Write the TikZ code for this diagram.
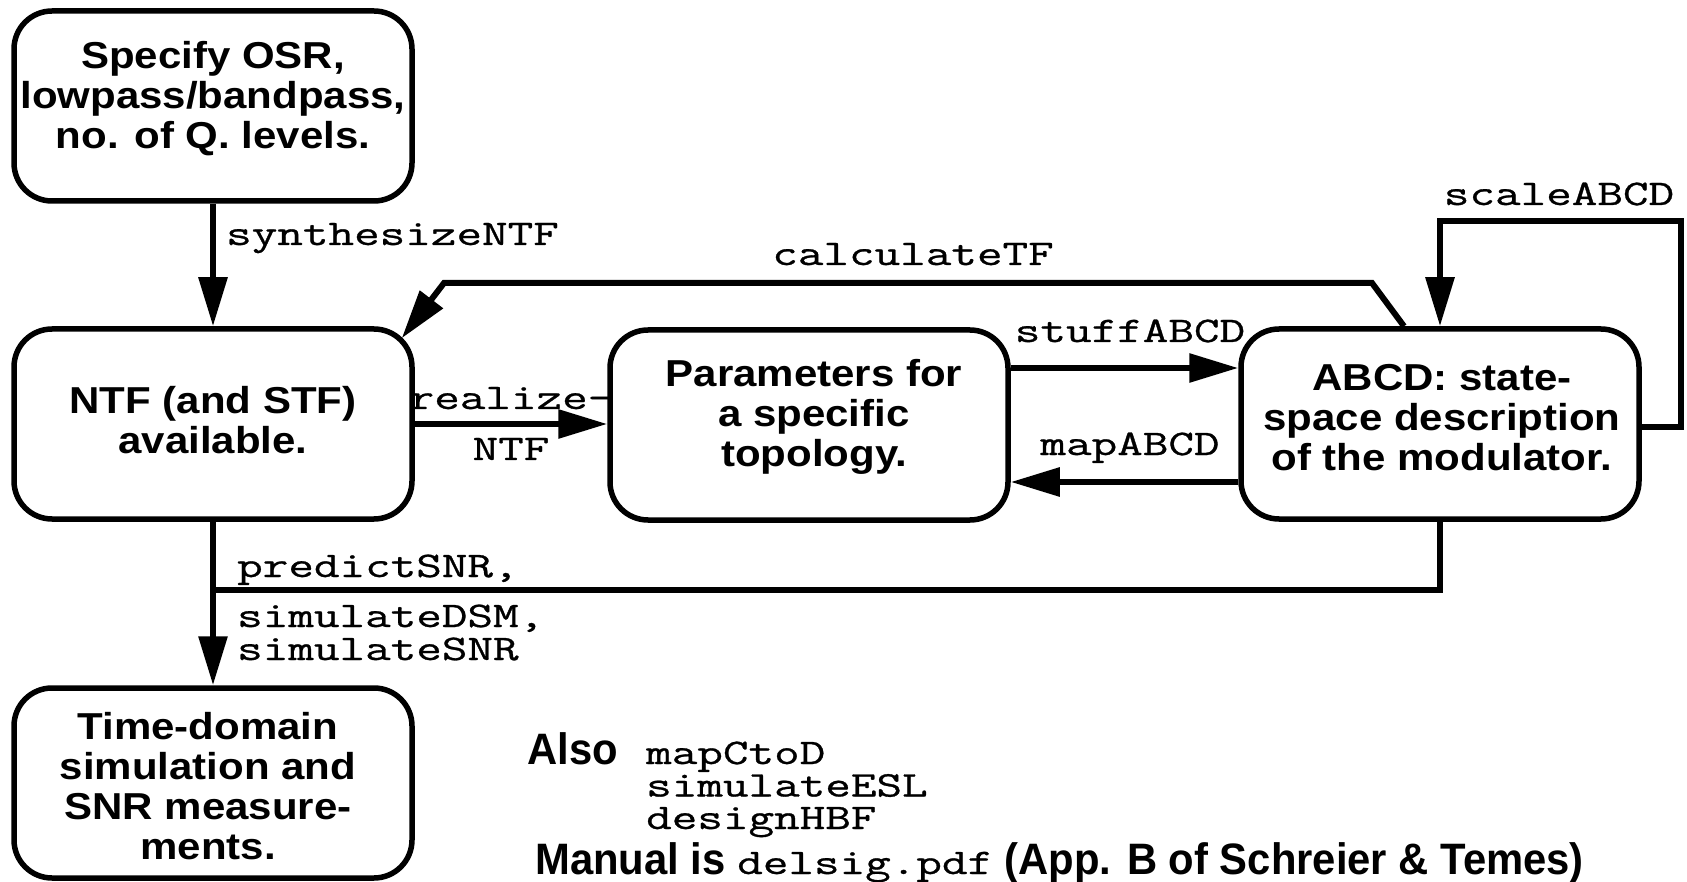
\documentclass[tikz,border=0pt]{standalone}
\usepackage{fontspec}
\setmainfont{Liberation Sans}[FakeStretch=1.12]
\newfontfamily\narrowsans{Liberation Sans}[FakeStretch=0.95]
\newfontfamily\mono{Latin Modern Mono}[FakeStretch=1.38,FakeBold=0.8]
\usetikzlibrary{arrows.meta,calc}
\begin{document}
\begin{tikzpicture}[x=1pt,y=-1pt,
  box/.style={draw, line width=5.5pt, rounded corners=38pt, minimum width=398pt, minimum height=190pt, inner sep=0pt},
  btxt/.style={font=\bfseries\fontsize{37.5}{40}\selectfont, align=center, inner sep=0pt},
  ntxt/.style={font=\narrowsans\bfseries\fontsize{44}{44}\selectfont, inner sep=0pt},
  mtxt/.style={font=\mono\fontsize{36}{33}\selectfont, inner sep=0pt, align=left},
  conn/.style={line width=6pt, line join=miter},
  arr/.style={conn, -{Triangle[length=49pt,width=28pt]}}]
\useasboundingbox[fill=white] (0,0) rectangle (1687,882);
% boxes
\node[box] (spec) at (213,106) {};
\node[box] (ntf) at (213,424) {};
\node[box] (par) at (809,425) {};
\node[box] (abcd) at (1440,424) {};
\node[box] (time) at (213,783) {};
% box texts
\node[btxt] (spect) at (213,99) {Specify OSR,\\lowpass/bandpass,\\no. of Q. levels.};
\node[btxt] (ntft) at (213,420) {NTF (and STF)\\available.};
\node[btxt] (part) at (814,417) {Parameters for\\a specific\\topology.};
\node[btxt] (abcdt) at (1442,418) {ABCD: state-\\space description\\of the modulator.};
\node[btxt] (timet) at (208,786) {Time-domain\\simulation and\\SNR measure-\\ments.};
% helper coordinates
\coordinate (ys) at (0,368);
\coordinate (ym) at (0,482);
\coordinate (yb) at (0,590);
\coordinate (ysc) at (0,221);
\coordinate (yr) at (0,427);
\coordinate (xr) at (1681,0);
\coordinate (cstart) at ($(abcd.north)+(-36,0)$);
\coordinate (cbend) at (1372,283);
\coordinate (cleft) at (444,283);
\coordinate (ctip) at ($(ntf.north east)+(-13,12)$);
% connectors
\draw[arr] (spec.south) -- (ntf.north);
\draw[arr] (ntf.east) -- (ntf.east -| par.west);
\draw[arr] (par.east |- ys) -- (abcd.west |- ys);
\draw[arr] (abcd.west |- ym) -- (par.east |- ym);
\draw[arr] (abcd.east |- yr) -- (xr |- yr) -- (xr |- ysc) -- (abcd.north |- ysc) -- (abcd.north);
\draw[arr] (cstart) -- (cbend) -- (cleft) -- (ctip);
\draw[arr] (ntf.south) -- (time.north);
\draw[conn] (ntf.south |- yb) -- (abcd.south |- yb) -- (abcd.south);
% labels
\node[mtxt, anchor=base west] (l1) at (226,245) {synthesizeNTF};
\node[mtxt, anchor=base] (l2) at (913,265) {calculateTF};
\node[mtxt, anchor=base] (l3) at (1559,205) {scaleABCD};
\node[mtxt, anchor=base] (l4) at (1130,342) {stuffABCD};
\node[mtxt, anchor=base] (l5) at (1130,455) {mapABCD};
\node[mtxt, anchor=base] (l6) at (511,409) {realize-};
\node[mtxt, anchor=base] (l7) at (511,460) {NTF};
\node[mtxt, anchor=base west] (l8) at (237,577) {predictSNR,};
\node[mtxt, anchor=base west] (l9) at (237,660) {simulateDSM,\\simulateSNR};
% notes
\node[ntxt, anchor=base west] (also) at (527,764) {Also};
\node[mtxt, anchor=base west, font=\mono\fontsize{36}{32.5}\selectfont] (n1) at (646,829) {mapCtoD\\simulateESL\\designHBF};
\node[ntxt, anchor=base west] (man) at (535,874) {Manual is {\mdseries\mono\fontsize{36}{33}\selectfont delsig.pdf} (App. B of Schreier \& Temes)};
\end{tikzpicture}
\end{document}
